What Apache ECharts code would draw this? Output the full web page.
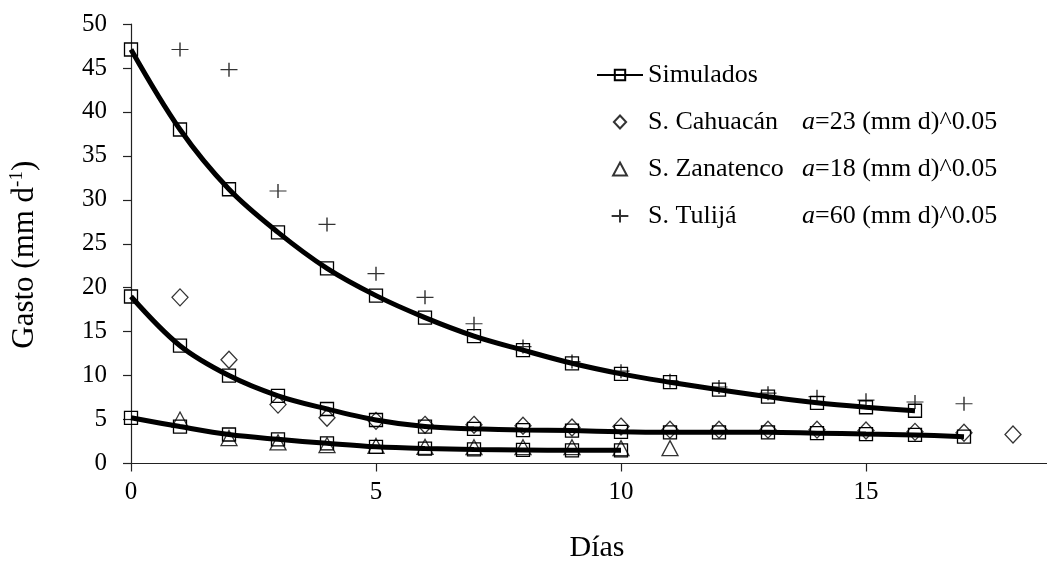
<!DOCTYPE html>
<html>
<head>
<meta charset="utf-8">
<script src="https://cdn.jsdelivr.net/npm/echarts@6/dist/echarts.min.js"></script>
<style>
  html, body { margin: 0; padding: 0; background: #fff; }
  #chart { width: 1047px; height: 562px; }
</style>
</head>
<body>
<div id="chart"></div>
<script>
// Axis settings
const xAxisTitle = 'Días';
const yAxisTitle = 'Gasto (mm d';
const yAxisTitleSup = '-1';
const xMin = 0, xMax = 20, xStep = 5;
const yMin = 0, yMax = 50, yStep = 5;

// Series names and the fitted parameter a for each station
const simName = 'Simulados';
const obsNames = ['S. Cahuacán', 'S. Zanatenco', 'S. Tulijá'];
const aValues = [23, 18, 60];

// Simulated discharge (mm/d), one value per day starting at day 0
const simCahuacan  = [19.0, 13.4, 10.0, 7.7, 6.2, 4.95, 4.2, 3.95, 3.8, 3.75, 3.6, 3.55, 3.55, 3.55, 3.45, 3.35, 3.25, 3.05];
const simZanatenco = [5.2, 4.2, 3.3, 2.75, 2.3, 1.9, 1.7, 1.6, 1.55, 1.5, 1.5];
const simTulija    = [47.1, 38.0, 31.2, 26.3, 22.2, 19.1, 16.6, 14.5, 12.9, 11.4, 10.2, 9.25, 8.4, 7.6, 6.9, 6.4, 6.0];

// Observed discharge (mm/d), one value per day starting at day 1
const obsCahuacan  = [18.9, 11.8, 6.7, 5.2, 4.85, 4.4, 4.4, 4.3, 4.1, 4.2, 3.85, 3.85, 3.85, 3.85, 3.75, 3.6, 3.5, 3.3];
const obsZanatenco = [5.0, 2.9, 2.4, 2.1, 2.0, 1.9, 1.85, 1.85, 1.85, 1.75, 1.75];
const obsTulija    = [47.1, 44.8, 31.0, 27.2, 21.6, 18.9, 15.9, 13.3, 11.6, 10.5, 9.4, 8.7, 8.0, 7.6, 7.2, 7.0, 6.8];

const simStartDay = 0;
const obsStartDay = 1;

const SERIF = "'Liberation Serif', 'Times New Roman', serif";

// Outline markers as paths so the legend keeps their proportions
const DIAMOND = 'path://M8,0L16,8.5L8,17L0,8.5Z';
const TRIANGLE = 'path://M8,0L16,15L0,15Z';
const PLUS = 'path://M0,7L18,7M9,0L9,14';

function toPairs(values, startDay) {
  return values.map((v, i) => [startDay + i, v]);
}

function simSeries(values) {
  return {
    name: simName,
    type: 'line',
    data: toPairs(values, simStartDay),
    smooth: 0.35,
    symbol: 'rect',
    symbolSize: 13,
    lineStyle: { color: '#000', width: 5 },
    itemStyle: { color: 'transparent', borderColor: '#000', borderWidth: 1.3 },
    emphasis: { disabled: true },
    z: 2
  };
}

function obsSeries(idx, values, symbol, size) {
  return {
    name: obsNames[idx],
    type: 'scatter',
    data: toPairs(values, obsStartDay),
    symbol: symbol,
    symbolSize: size,
    itemStyle: { color: 'transparent', borderColor: '#000', borderWidth: 1.3 },
    emphasis: { disabled: true },
    z: 3
  };
}

const chart = echarts.init(document.getElementById('chart'), null, { renderer: 'canvas' });

chart.setOption({
  animation: false,
  backgroundColor: '#fff',
  grid: {
    left: 131, top: 24, bottom: 98.5, right: -64,
    containLabel: false,
    outerBoundsMode: 'none'
  },
  xAxis: {
    type: 'value',
    min: xMin, max: xMax, interval: xStep,
    name: xAxisTitle,
    nameLocation: 'middle',
    nameGap: 70,
    nameTextStyle: { fontFamily: SERIF, fontSize: 30, color: '#000', padding: [0, 48, 0, 0] },
    axisLine: { show: true, onZero: false, lineStyle: { color: '#222', width: 1.2 } },
    axisTick: { show: true, inside: false, length: 8, lineStyle: { color: '#222', width: 1.2 } },
    axisLabel: { fontFamily: SERIF, fontSize: 25, color: '#000', margin: 16 },
    splitLine: { show: false }
  },
  yAxis: {
    type: 'value',
    min: yMin, max: yMax, interval: yStep,
    name: '{b|' + yAxisTitle + '}{s|' + yAxisTitleSup + '}{b|)}',
    nameLocation: 'middle',
    nameGap: 89,
    nameTextStyle: {
      fontFamily: SERIF, color: '#000', padding: [0, 22, 0, 0],
      rich: {
        b: { fontFamily: SERIF, fontSize: 31, color: '#000', lineHeight: 34 },
        s: { fontFamily: SERIF, fontSize: 19, color: '#000', lineHeight: 20, verticalAlign: 'top' }
      }
    },
    axisLine: { show: true, lineStyle: { color: '#222', width: 1.2 } },
    axisTick: { show: true, inside: false, length: 8, lineStyle: { color: '#222', width: 1.2 } },
    axisLabel: { fontFamily: SERIF, fontSize: 25, color: '#000', margin: 24 },
    splitLine: { show: false }
  },
  legend: {
    orient: 'vertical',
    left: 591,
    top: 55,
    itemWidth: 46,
    itemHeight: 13,
    itemGap: 17,
    symbolKeepAspect: true,
    data: [simName].concat(obsNames),
    selectedMode: false,
    textStyle: {
      fontFamily: SERIF, fontSize: 26, color: '#000', lineHeight: 30,
      rich: {
        n: { fontFamily: SERIF, fontSize: 26, color: '#000', width: 154, lineHeight: 30 },
        i: { fontFamily: SERIF, fontSize: 26, color: '#000', fontStyle: 'italic', lineHeight: 30 },
        r: { fontFamily: SERIF, fontSize: 26, color: '#000', lineHeight: 30 }
      }
    },
    formatter: function (name) {
      const k = obsNames.indexOf(name);
      if (k < 0) return name;
      return '{n|' + name + '}{i|a}{r|=' + aValues[k] + ' (mm d)^0.05}';
    }
  },
  series: [
    simSeries(simTulija),
    simSeries(simCahuacan),
    simSeries(simZanatenco),
    obsSeries(0, obsCahuacan, DIAMOND, [16, 17]),
    obsSeries(1, obsZanatenco, TRIANGLE, [16, 15]),
    obsSeries(2, obsTulija, PLUS, [17, 14])
  ]
});
</script>
</body>
</html>
